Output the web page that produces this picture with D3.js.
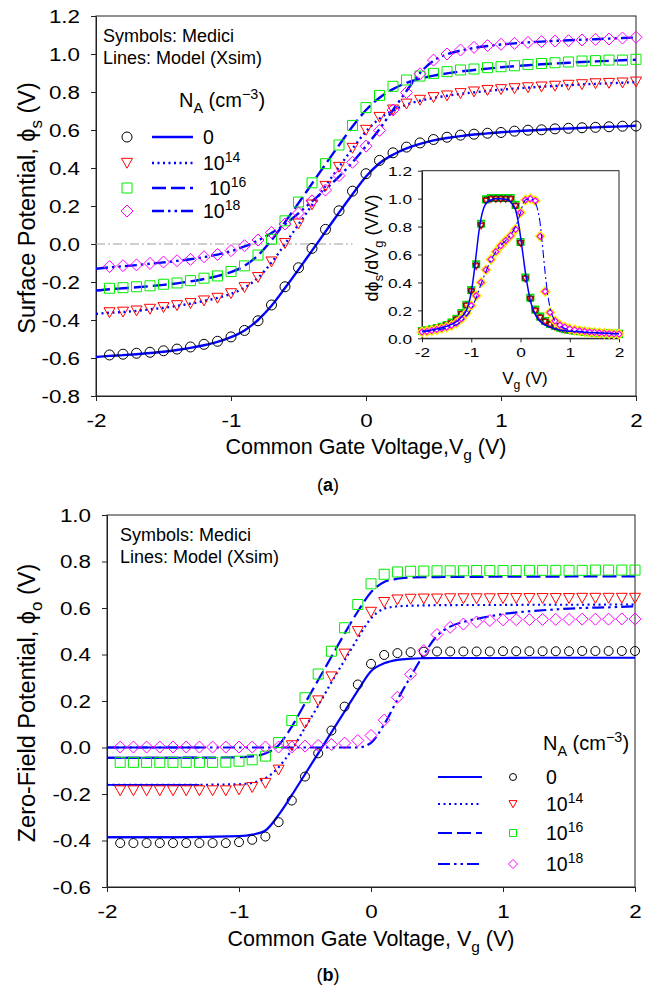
<!DOCTYPE html>
<html>
<head>
<meta charset="utf-8">
<script src="https://cdn.jsdelivr.net/npm/d3@7"></script>
<style>
  body { margin: 0; background: #fff; }
  text { font-family: Arial, "Liberation Sans", sans-serif; fill: #000; }
</style>
</head>
<body>
<script>
// ---- data ----
const vgSym = [-1.9,-1.8,-1.7,-1.6,-1.5,-1.4,-1.3,-1.2,-1.1,-1.0,-0.9,-0.8,-0.7,-0.6,-0.5,-0.4,-0.3,-0.2,-0.1,0.0,
  0.1,0.2,0.3,0.4,0.5,0.6,0.7,0.8,0.9,1.0,1.1,1.2,1.3,1.4,1.5,1.6,1.7,1.8,1.9,2.0];
const vgLine = [-2.0,-1.9,-1.8,-1.7,-1.6,-1.5,-1.4,-1.3,-1.2,-1.1,-1.0,-0.9,-0.8,-0.7,-0.6,-0.5,-0.4,-0.3,-0.2,-0.1,0.0,
  0.1,0.2,0.3,0.4,0.5,0.6,0.7,0.8,0.9,1.0,1.1,1.2,1.3,1.4,1.5,1.6,1.7,1.8,1.9,2.0];

// (a) surface potential, Medici symbols
const phiSCircle = [-0.584,-0.580,-0.575,-0.570,-0.562,-0.553,-0.542,-0.528,-0.512,-0.489,-0.455,-0.404,-0.321,-0.225,-0.125,-0.023,0.077,0.175,0.278,0.370,
  0.440,0.480,0.510,0.532,0.550,0.562,0.573,0.578,0.583,0.587,0.594,0.599,0.601,0.606,0.609,0.612,0.614,0.617,0.620,0.621];
const phiSTri = [-0.360,-0.357,-0.351,-0.342,-0.333,-0.323,-0.312,-0.298,-0.284,-0.260,-0.228,-0.175,-0.093,0.004,0.107,0.207,0.305,0.405,0.505,0.600,
  0.668,0.707,0.738,0.758,0.772,0.781,0.793,0.802,0.810,0.814,0.819,0.824,0.828,0.832,0.837,0.840,0.845,0.847,0.849,0.854];
const phiSSq = [-0.233,-0.230,-0.225,-0.220,-0.212,-0.205,-0.193,-0.180,-0.168,-0.145,-0.115,-0.058,0.025,0.122,0.221,0.322,0.423,0.521,0.624,0.718,
  0.782,0.830,0.863,0.884,0.898,0.907,0.916,0.921,0.928,0.933,0.938,0.945,0.950,0.954,0.958,0.963,0.965,0.968,0.968,0.972];
const phiSDia = [-0.119,-0.114,-0.110,-0.102,-0.095,-0.088,-0.081,-0.067,-0.055,-0.035,-0.009,0.021,0.061,0.105,0.163,0.227,0.284,0.360,0.430,0.515,
  0.598,0.705,0.797,0.896,0.968,1.000,1.021,1.035,1.044,1.051,1.056,1.061,1.065,1.068,1.070,1.074,1.077,1.079,1.084,1.088];

// (a) model lines
const modelS0 = [-0.595,-0.589,-0.585,-0.580,-0.574,-0.567,-0.558,-0.547,-0.533,-0.515,-0.490,-0.455,-0.400,-0.325,-0.232,-0.135,-0.035,0.065,0.165,0.262,0.355,
  0.425,0.470,0.503,0.527,0.545,0.558,0.568,0.576,0.582,0.588,0.593,0.597,0.601,0.605,0.608,0.611,0.614,0.617,0.619,0.622];
const modelS14 = [-0.368,-0.362,-0.358,-0.352,-0.344,-0.336,-0.326,-0.314,-0.300,-0.284,-0.262,-0.230,-0.178,-0.098,0.000,0.103,0.205,0.305,0.405,0.502,0.592,
  0.660,0.703,0.733,0.754,0.769,0.780,0.790,0.798,0.806,0.812,0.818,0.823,0.828,0.832,0.836,0.840,0.843,0.846,0.849,0.852];
const modelS16 = [-0.245,-0.238,-0.233,-0.228,-0.222,-0.215,-0.207,-0.197,-0.184,-0.169,-0.148,-0.115,-0.060,0.020,0.115,0.215,0.318,0.420,0.520,0.618,0.705,
  0.770,0.815,0.848,0.870,0.886,0.898,0.908,0.916,0.923,0.930,0.936,0.941,0.946,0.950,0.954,0.958,0.961,0.964,0.967,0.970];
const modelS18 = [-0.130,-0.123,-0.117,-0.111,-0.104,-0.097,-0.089,-0.080,-0.069,-0.056,-0.038,-0.013,0.018,0.058,0.104,0.162,0.225,0.287,0.355,0.430,0.515,
  0.605,0.705,0.805,0.900,0.965,0.998,1.018,1.032,1.042,1.050,1.056,1.061,1.065,1.069,1.072,1.075,1.078,1.081,1.084,1.087];
const zeroRefVg = [-2.0, -0.1];

// inset: d(phi_s)/dVg
const dCircle = [0.050,0.055,0.062,0.070,0.080,0.092,0.108,0.135,0.175,0.235,0.340,0.525,0.815,0.990,1.000,1.000,1.000,1.000,1.000,0.950,0.685,
  0.430,0.285,0.200,0.150,0.120,0.100,0.085,0.073,0.064,0.057,0.052,0.048,0.044,0.041,0.038,0.036,0.034,0.032,0.031,0.030];
const dTri = [0.048,0.053,0.060,0.068,0.078,0.090,0.106,0.132,0.172,0.232,0.335,0.515,0.805,0.985,0.995,0.995,0.995,0.995,0.995,0.945,0.680,
  0.425,0.280,0.195,0.146,0.117,0.097,0.082,0.071,0.062,0.055,0.050,0.046,0.042,0.039,0.036,0.034,0.032,0.030,0.029,0.028];
const dSq = [0.052,0.057,0.064,0.073,0.083,0.095,0.112,0.140,0.180,0.240,0.345,0.530,0.820,0.995,1.005,1.005,1.005,1.005,1.005,0.955,0.690,
  0.435,0.290,0.205,0.155,0.124,0.103,0.088,0.076,0.066,0.059,0.054,0.050,0.046,0.043,0.040,0.038,0.036,0.034,0.033,0.032];
const dDia = [0.045,0.050,0.056,0.063,0.071,0.080,0.092,0.110,0.140,0.180,0.235,0.305,0.400,0.490,0.565,0.620,0.663,0.700,0.735,0.780,0.900,
  0.990,1.000,0.985,0.730,0.335,0.185,0.125,0.095,0.080,0.068,0.060,0.054,0.049,0.045,0.042,0.039,0.036,0.034,0.032,0.030];
const insetVgA = [-2.0,-1.8,-1.6,-1.4,-1.3,-1.2,-1.1,-1.05,-1.0,-0.95,-0.9,-0.85,-0.8,-0.75,-0.7,-0.6,-0.5,-0.4,-0.3,-0.2,-0.1,-0.05,0.0,0.05,0.1,0.15,0.2,0.3,0.4,0.5,0.6,0.8,1.0,1.5,2.0];
const dModelA = [0.050,0.060,0.075,0.100,0.120,0.150,0.200,0.250,0.330,0.450,0.600,0.750,0.860,0.930,0.965,0.990,1.000,1.000,0.995,0.975,0.920,0.840,0.730,0.600,0.470,0.360,0.270,0.170,0.120,0.095,0.080,0.060,0.050,0.040,0.032];
const insetVgD = [-2.0,-1.5,-1.2,-1.1,-1.0,-0.9,-0.8,-0.7,-0.6,-0.5,-0.4,-0.3,-0.2,-0.1,0.0,0.05,0.1,0.2,0.3,0.35,0.4,0.45,0.5,0.55,0.6,0.65,0.7,0.8,1.0,1.5,2.0];
const dModelD = [0.045,0.075,0.120,0.160,0.210,0.290,0.390,0.480,0.560,0.620,0.665,0.700,0.740,0.800,0.900,0.960,0.990,1.000,0.970,0.920,0.820,0.650,0.470,0.320,0.220,0.160,0.125,0.090,0.060,0.042,0.030];

// (b) zero-field potential, Medici symbols
const phiOCircle = [-0.411,-0.411,-0.411,-0.411,-0.411,-0.411,-0.411,-0.411,-0.411,-0.407,-0.397,-0.383,-0.321,-0.228,-0.125,-0.025,0.073,0.176,0.271,0.360,
  0.398,0.406,0.410,0.412,0.413,0.413,0.413,0.413,0.413,0.414,0.414,0.414,0.414,0.414,0.414,0.415,0.415,0.415,0.415,0.415];
const phiOTri = [-0.185,-0.185,-0.185,-0.185,-0.185,-0.185,-0.185,-0.185,-0.185,-0.181,-0.171,-0.153,-0.096,0.009,0.105,0.202,0.305,0.403,0.500,0.583,
  0.625,0.636,0.639,0.640,0.640,0.641,0.641,0.641,0.641,0.642,0.642,0.642,0.642,0.642,0.642,0.643,0.643,0.643,0.643,0.643];
const phiOSq = [-0.064,-0.064,-0.064,-0.064,-0.064,-0.064,-0.064,-0.064,-0.063,-0.059,-0.053,-0.037,0.021,0.116,0.214,0.316,0.414,0.515,0.615,0.704,
  0.745,0.755,0.758,0.759,0.760,0.760,0.760,0.761,0.761,0.761,0.761,0.762,0.762,0.762,0.762,0.762,0.763,0.763,0.763,0.763];
const phiODia = [0.002,0.002,0.002,0.002,0.002,0.002,0.002,0.002,0.002,0.002,0.002,0.002,0.002,0.002,0.006,0.009,0.013,0.019,0.030,0.052,
  0.118,0.216,0.315,0.417,0.486,0.517,0.531,0.540,0.546,0.549,0.550,0.550,0.551,0.551,0.551,0.552,0.552,0.552,0.553,0.553];

// (b) model lines
const vgLineB = [-2.0,-1.5,-1.0,-0.9,-0.8,-0.7,-0.6,-0.5,-0.4,-0.3,-0.2,-0.1,0.0,0.1,0.2,0.3,0.4,0.5,0.6,0.7,0.8,1.0,1.2,1.4,1.6,1.8,2.0];
const modelO0 = [-0.386,-0.386,-0.381,-0.375,-0.357,-0.290,-0.205,-0.115,-0.025,0.065,0.155,0.245,0.328,0.362,0.377,0.382,0.384,0.385,0.385,0.385,0.385,0.385,0.386,0.386,0.386,0.386,0.386];
const modelO14 = [-0.161,-0.161,-0.158,-0.152,-0.132,-0.085,-0.010,0.085,0.180,0.280,0.375,0.470,0.555,0.597,0.607,0.610,0.611,0.612,0.612,0.613,0.613,0.613,0.614,0.614,0.614,0.615,0.615];
const modelO16 = [-0.044,-0.044,-0.042,-0.038,-0.026,0.010,0.090,0.190,0.290,0.390,0.490,0.585,0.668,0.712,0.726,0.731,0.733,0.733,0.734,0.734,0.734,0.735,0.735,0.735,0.736,0.736,0.736];
const modelO18 = [0.000,0.000,0.000,0.000,0.000,0.000,0.000,0.000,0.000,0.000,0.000,0.000,0.020,0.100,0.205,0.305,0.400,0.480,0.520,0.540,0.553,0.574,0.586,0.594,0.600,0.603,0.607];

const dopingLabels = [["0"], ["10", "14"], ["10", "16"], ["10", "18"]];
const xTicks = [-2, -1, 0, 1, 2];
const yTicksA = [-0.8, -0.6, -0.4, -0.2, 0.0, 0.2, 0.4, 0.6, 0.8, 1.0, 1.2];
const yTicksInset = [0.0, 0.2, 0.4, 0.6, 0.8, 1.0, 1.2];
const yTicksB = [-0.6, -0.4, -0.2, 0.0, 0.2, 0.4, 0.6, 0.8, 1.0];

// ---- drawing ----
const BLUE = "#0000ff";
const PHI = "\u03d5";
const dashes = ["none", "2,3.5", "14,5", "12,4,2.5,4,2.5,4"];

const svg = d3.select("body").append("svg").attr("width", 656).attr("height", 992);

// text with sub/superscripts: parts = [[text, mode]] mode 0 normal, 1 sub, 2 sup
const rich = (g, parts, size) => {
  let t = g.append("text").attr("font-size", size);
  let shift = 0;
  parts.forEach(([s, m]) => {
    let target = m === 1 ? size * 0.3 : m === 2 ? -size * 0.42 : 0;
    t.append("tspan").attr("dy", target - shift).attr("font-size", m ? size * 0.72 : size).text(s);
    shift = target;
  });
  return t;
};

const symbolPath = (kind, s) => {
  let h = s / 2;
  if (kind === "tri") return `M${-h},${-h * 0.85}L${h},${-h * 0.85}L0,${h * 0.95}Z`;
  if (kind === "sq") return `M${-h},${-h}H${h}V${h}H${-h}Z`;
  if (kind === "dia") return `M0,${-h}L${h},0L0,${h}L${-h},0Z`;
  return d3.symbol(d3.symbolCircle, Math.PI * h * h)();
};

const drawSymbols = (g, xs, ys, x, y, kind, s, color, sw, fill) => {
  g.append("g")
    .selectAll("path")
    .data(xs.map((v, i) => [v, ys[i]]))
    .enter()
    .append("path")
    .attr("transform", d => "translate(" + x(d[0]) + "," + y(d[1]) + ")")
    .attr("d", symbolPath(kind, s))
    .attr("fill", fill || "none")
    .attr("stroke", color)
    .attr("stroke-width", sw);
};

const drawLine = (g, xs, ys, x, y, dash, w, clip) => {
  let line = d3.line().x(d => x(d[0])).y(d => y(d[1])).curve(d3.curveMonotoneX);
  g.append("path")
    .datum(xs.map((v, i) => [v, ys[i]]))
    .attr("d", line)
    .attr("fill", "none")
    .attr("stroke", BLUE)
    .attr("stroke-width", w)
    .attr("stroke-dasharray", dash)
    .attr("clip-path", clip || null);
};

const drawAxes = (g, x, y, yTicks, fs, tickLen, stretch, gapX, gapY) => {
  let x0 = x.range()[0], x1 = x.range()[1], y0 = y.range()[0], y1 = y.range()[1];
  g.append("rect")
    .attr("x", x0).attr("y", y1).attr("width", x1 - x0).attr("height", y0 - y1)
    .attr("fill", "#fff").attr("stroke", "#222").attr("stroke-width", 1);
  let gx = g.append("g")
    .attr("transform", "translate(0," + y0 + ")")
    .call(d3.axisBottom(x).tickValues(xTicks).tickSize(tickLen).tickSizeOuter(0).tickFormat(d => String(d)));
  let gy = g.append("g")
    .attr("transform", "translate(" + x0 + ",0)")
    .call(d3.axisLeft(y).tickValues(yTicks).tickSize(tickLen).tickSizeOuter(0).tickFormat(d => d.toFixed(1)));
  [gx, gy].forEach(a => {
    a.attr("font-family", null).attr("font-size", null);
    a.select(".domain").attr("stroke", "#222");
    a.selectAll(".tick line").attr("stroke", "#222");
    a.selectAll(".tick text").attr("fill", "#000").attr("font-size", fs);
  });
  gx.selectAll(".tick text").attr("dy", null).attr("y", tickLen + gapY + fs * 0.72)
    .attr("transform", "scale(" + stretch + ",1)");
  gy.selectAll(".tick text").attr("dy", "0.36em").attr("x", -(tickLen + gapX) / stretch)
    .attr("transform", "scale(" + stretch + ",1)");
};

// ===== panel (a) =====
const xA = d3.scaleLinear().domain([-2, 2]).range([96, 636]);
const yA = d3.scaleLinear().domain([-0.8, 1.2]).range([396, 16]);
const gA = svg.append("g");
drawAxes(gA, xA, yA, yTicksA, 17.5, 5, 1.28, 11, 13);

gA.append("path")
  .datum(zeroRefVg)
  .attr("d", d3.line().x(d => xA(d)).y(() => yA(0)))
  .attr("stroke", "#a0a0a0").attr("stroke-width", 1.2).attr("fill", "none")
  .attr("stroke-dasharray", "9,3,2,3");

drawLine(gA, vgLine, modelS0, xA, yA, dashes[0], 2.4);
drawLine(gA, vgLine, modelS14, xA, yA, dashes[1], 2.4);
drawLine(gA, vgLine, modelS16, xA, yA, dashes[2], 2.4);
drawLine(gA, vgLine, modelS18, xA, yA, dashes[3], 2.4);
drawSymbols(gA, vgSym, phiSCircle, xA, yA, "circle", 10, "#000", 1);
drawSymbols(gA, vgSym, phiSTri, xA, yA, "tri", 11, "#ff0000", 1);
drawSymbols(gA, vgSym, phiSSq, xA, yA, "sq", 10, "#00ee00", 1);
drawSymbols(gA, vgSym, phiSDia, xA, yA, "dia", 12, "#ff00ff", 1);

rich(gA, [["Symbols: Medici", 0]], 18).attr("x", 103).attr("y", 42);
rich(gA, [["Lines: Model (Xsim)", 0]], 18).attr("x", 103).attr("y", 64);
rich(gA, [["N", 0], ["A", 1], [" (cm", 0], ["\u22123", 2], [")", 0]], 20).attr("x", 179).attr("y", 107);

const rowsA = [137, 163, 188, 211];
const kinds = ["circle", "tri", "sq", "dia"];
const symColors = ["#000", "#ff0000", "#00ee00", "#ff00ff"];
const symSizesA = [10, 11, 10, 12];
rowsA.forEach((ry, i) => {
  gA.append("path").attr("transform", "translate(127," + ry + ")")
    .attr("d", symbolPath(kinds[i], symSizesA[i])).attr("fill", "none")
    .attr("stroke", symColors[i]).attr("stroke-width", 1);
  gA.append("line").attr("x1", 152).attr("x2", 193).attr("y1", ry).attr("y2", ry)
    .attr("stroke", BLUE).attr("stroke-width", 2.4).attr("stroke-dasharray", dashes[i]);
  let parts = dopingLabels[i].length > 1 ? [[dopingLabels[i][0], 0], [dopingLabels[i][1], 2]] : [[dopingLabels[i][0], 0]];
  rich(gA, parts, 19.5).attr("x", i === 2 ? 209 : 203).attr("y", ry + 7);
});

rich(gA, [["Surface Potential, ", 0], [PHI, 0], ["s", 1], [" (V)", 0]], 23.5)
  .attr("text-anchor", "middle").attr("transform", "translate(35,208) rotate(-90)");
rich(gA, [["Common Gate Voltage,V", 0], ["g", 1], [" (V)", 0]], 21.5)
  .attr("text-anchor", "middle").attr("x", 366).attr("y", 454);
gA.append("text").attr("x", 328).attr("y", 491).attr("text-anchor", "middle")
  .attr("font-family", "'Liberation Serif', 'Times New Roman', serif").attr("font-size", 18)
  .html("(<tspan font-weight='bold'>a</tspan>)");

// inset
const xI = d3.scaleLinear().domain([-2, 2]).range([422, 619]);
const yI = d3.scaleLinear().domain([0, 1.2]).range([338.3, 170.7]);
const gI = svg.append("g");
drawAxes(gI, xI, yI, yTicksInset, 13.5, 4, 1.28, 6, 5);
drawSymbols(gI, vgLine, dSq, xI, yI, "sq", 6.5, "#00dd00", 1.6);
drawSymbols(gI, vgLine, dTri, xI, yI, "tri", 6, "#ff0000", 1.4);
drawSymbols(gI, vgLine, dCircle, xI, yI, "circle", 6, "#222", 1);
drawSymbols(gI, vgLine, dDia, xI, yI, "dia", 8, "#ffee00", 2.4, "#ffee00");
drawSymbols(gI, vgLine, dDia, xI, yI, "dia", 6, "#ff00ff", 1.2, "#fff");
drawLine(gI, insetVgA, dModelA, xI, yI, "none", 1.5);
drawLine(gI, insetVgD, dModelD, xI, yI, "8,3,2,3", 1.1);
rich(gI, [["d" + PHI, 0], ["s", 1], ["/dV", 0], ["g", 1], [" (V/V)", 0]], 18)
  .attr("text-anchor", "middle").attr("transform", "translate(378,248) rotate(-90)");
rich(gI, [["V", 0], ["g", 1], [" (V)", 0]], 17)
  .attr("text-anchor", "middle").attr("x", 525).attr("y", 384);

// ===== panel (b) =====
const xB = d3.scaleLinear().domain([-2, 2]).range([107, 635]);
const yB = d3.scaleLinear().domain([-0.6, 1.0]).range([887, 515]);
const gB = svg.append("g");
drawAxes(gB, xB, yB, yTicksB, 17.5, 5, 1.28, 11, 13);

// the model curves in (b) are doubled by a solid trace on the left end
svg.append("clipPath").attr("id", "leftStub")
  .append("rect").attr("x", xB(-2)).attr("y", yB(1.0)).attr("width", xB(-1.3) - xB(-2)).attr("height", yB(-0.6) - yB(1.0));

drawLine(gB, vgLineB, modelO0, xB, yB, dashes[0], 2.2);
drawLine(gB, vgLineB, modelO14, xB, yB, dashes[1], 2.2);
drawLine(gB, vgLineB, modelO16, xB, yB, dashes[2], 2.2);
drawLine(gB, vgLineB, modelO18, xB, yB, dashes[3], 2.2);
[modelO0, modelO14, modelO16, modelO18].forEach(m => drawLine(gB, vgLineB, m, xB, yB, "none", 1.8, "url(#leftStub)"));
drawSymbols(gB, vgSym, phiOCircle, xB, yB, "circle", 9, "#000", 1);
drawSymbols(gB, vgSym, phiOTri, xB, yB, "tri", 11, "#ff0000", 1);
drawSymbols(gB, vgSym, phiOSq, xB, yB, "sq", 10, "#00ee00", 1);
drawSymbols(gB, vgSym, phiODia, xB, yB, "dia", 12, "#ff00ff", 1);

rich(gB, [["Symbols: Medici", 0]], 18).attr("x", 120).attr("y", 541);
rich(gB, [["Lines: Model (Xsim)", 0]], 18).attr("x", 120).attr("y", 563);
rich(gB, [["N", 0], ["A", 1], [" (cm", 0], ["\u22123", 2], [")", 0]], 20).attr("x", 543).attr("y", 750);

const rowsB = [777, 804, 833, 864];
const symSizesB = [7, 8, 7, 9];
rowsB.forEach((ry, i) => {
  gB.append("line").attr("x1", 438).attr("x2", 482).attr("y1", ry).attr("y2", ry)
    .attr("stroke", BLUE).attr("stroke-width", 2.2).attr("stroke-dasharray", dashes[i]);
  gB.append("path").attr("transform", "translate(513," + ry + ")")
    .attr("d", symbolPath(kinds[i], symSizesB[i])).attr("fill", "none")
    .attr("stroke", symColors[i]).attr("stroke-width", 1);
  let parts = dopingLabels[i].length > 1 ? [[dopingLabels[i][0], 0], [dopingLabels[i][1], 2]] : [[dopingLabels[i][0], 0]];
  rich(gB, parts, 19.5).attr("x", 546).attr("y", ry + 7);
});

rich(gB, [["Zero-Field Potential, ", 0], [PHI, 0], ["o", 1], [" (V)", 0]], 23.5)
  .attr("text-anchor", "middle").attr("transform", "translate(35,703) rotate(-90)");
rich(gB, [["Common Gate Voltage, V", 0], ["g", 1], [" (V)", 0]], 21.5)
  .attr("text-anchor", "middle").attr("x", 371).attr("y", 946);
gB.append("text").attr("x", 328).attr("y", 981).attr("text-anchor", "middle")
  .attr("font-family", "'Liberation Serif', 'Times New Roman', serif").attr("font-size", 18)
  .html("(<tspan font-weight='bold'>b</tspan>)");
</script>
</body>
</html>
